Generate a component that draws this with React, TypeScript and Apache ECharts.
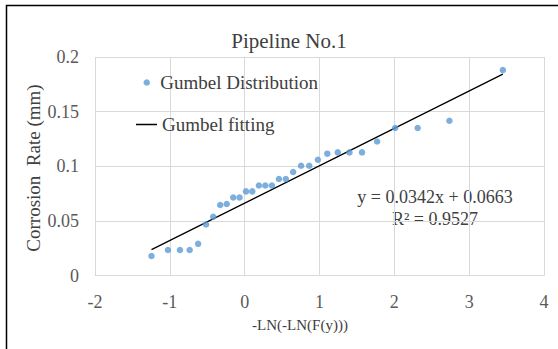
import React, { useEffect, useRef } from "react";
import * as echarts from "echarts";

const gumbelX: number[] = [
  -1.245, -1.025, -0.865, -0.735, -0.622, -0.516, -0.42, -0.327, -0.24, -0.153,
  -0.068, 0.018, 0.102, 0.19, 0.276, 0.364, 0.458, 0.55, 0.648, 0.754,
  0.863, 0.978, 1.104, 1.244, 1.4, 1.568, 1.77, 2.011, 2.312, 2.736, 3.45,
];
const corrosionRate: number[] = [
  0.0178, 0.0233, 0.0233, 0.0233, 0.029, 0.0467, 0.0538, 0.0645, 0.0654, 0.0714,
  0.0714, 0.077, 0.077, 0.0824, 0.0824, 0.0824, 0.0883, 0.0883, 0.0947, 0.1005,
  0.1005, 0.106, 0.1115, 0.1127, 0.1127, 0.1127, 0.1227, 0.135, 0.135, 0.1417, 0.188,
];
const fitSlope = 0.0342;
const fitIntercept = 0.0663;
const rSquared = 0.9527;
const xTicks = { min: -2, max: 4, interval: 1 };
const yTicks = { min: 0, max: 0.2, interval: 0.05 };

const FONT = "Liberation Serif";

export default function App() {
  const ref = useRef<HTMLDivElement>(null);
  useEffect(() => {
    if (!ref.current) return;
    const chart = echarts.init(ref.current, undefined, { renderer: "svg" });
    const points = gumbelX.map((x, i) => [x, corrosionRate[i]]);
    const xmin = Math.min(...gumbelX);
    const xmax = Math.max(...gumbelX);
    const fitLine = [
      [xmin, fitSlope * xmin + fitIntercept],
      [xmax, fitSlope * xmax + fitIntercept],
    ];
    chart.setOption({
      animation: false,
      backgroundColor: "#ffffff",
      textStyle: { fontFamily: FONT },
      title: {
        text: "Pipeline No.1",
        left: 284,
        top: 25,
        textAlign: "center",
        textStyle: { fontFamily: FONT, fontSize: 21, fontWeight: "normal", color: "#404040" },
      },
      grid: { left: 95, top: 57, width: 449, height: 218.5, containLabel: false },
      legend: [
        {
          data: [{ name: "Gumbel Distribution", icon: "circle" }],
          left: 143.5,
          top: 73,
          padding: 0,
          itemWidth: 7,
          itemHeight: 6.5,
          itemGap: 0,
          textStyle: { fontFamily: FONT, fontSize: 19, color: "#404040", padding: [0, 0, 0, 5] },
        },
        {
          data: [{ name: "Gumbel fitting", icon: "rect" }],
          left: 136,
          top: 115,
          padding: 0,
          itemWidth: 21,
          itemHeight: 1.5,
          textStyle: { fontFamily: FONT, fontSize: 19, color: "#404040" },
        },
      ],
      xAxis: {
        type: "value",
        min: xTicks.min,
        max: xTicks.max,
        interval: xTicks.interval,
        axisLine: { show: true, lineStyle: { color: "#D9D9D9" } },
        axisTick: { show: false },
        axisLabel: { margin: 17, fontSize: 18, color: "#595959", fontFamily: FONT },
        splitLine: { show: true, lineStyle: { color: "#D9D9D9", width: 1 } },
      },
      yAxis: {
        type: "value",
        min: yTicks.min,
        max: yTicks.max,
        interval: yTicks.interval,
        axisLine: { show: true, lineStyle: { color: "#D9D9D9" } },
        axisTick: { show: false },
        axisLabel: { margin: 16, fontSize: 18, color: "#595959", fontFamily: FONT },
        splitLine: { show: true, lineStyle: { color: "#D9D9D9", width: 1 } },
      },
      series: [
        {
          name: "Gumbel Distribution",
          type: "scatter",
          data: points,
          symbol: "circle",
          symbolSize: 6.5,
          itemStyle: { color: "#5B9BD5" },
          z: 3,
        },
        {
          name: "Gumbel fitting",
          type: "line",
          data: fitLine,
          showSymbol: false,
          symbol: "none",
          lineStyle: { color: "#000000", width: 1.3 },
          itemStyle: { color: "#000000" },
          z: 2,
        },
      ],
      graphic: [
        {
          type: "rect",
          shape: { x: 6.5, y: 5.5, width: 700, height: 500 },
          style: { fill: "none", stroke: "#000000", lineWidth: 1.5 },
          silent: true,
        },
        {
          type: "text",
          x: 33,
          y: 168,
          rotation: Math.PI / 2,
          style: {
            text: "Corrosion  Rate (mm)",
            fontFamily: FONT,
            fontSize: 19,
            fill: "#404040",
            align: "center",
            verticalAlign: "middle",
          },
        },
        {
          type: "text",
          x: 300,
          y: 325,
          style: {
            text: "-LN(-LN(F(y)))",
            fontFamily: FONT,
            fontSize: 15,
            fill: "#404040",
            align: "center",
            verticalAlign: "middle",
          },
        },
        {
          type: "text",
          x: 435,
          y: 197,
          style: {
            text: `y = ${fitSlope}x + ${fitIntercept}`,
            fontFamily: FONT,
            fontSize: 18,
            fill: "#404040",
            align: "center",
            verticalAlign: "middle",
          },
        },
        {
          type: "text",
          x: 435,
          y: 219,
          style: {
            text: `R² = ${rSquared}`,
            fontFamily: FONT,
            fontSize: 18,
            fill: "#404040",
            align: "center",
            verticalAlign: "middle",
          },
        },
      ],
    });
    return () => chart.dispose();
  }, []);
  return (
    <div
      ref={ref}
      style={{ position: "fixed", left: 0, top: 0, width: 558, height: 349, background: "#fff" }}
    />
  );
}
